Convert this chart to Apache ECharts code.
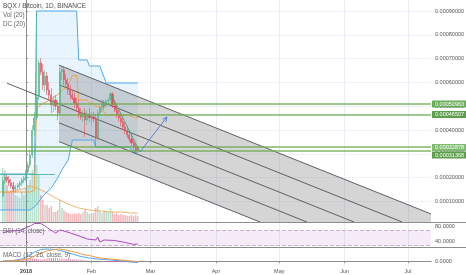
<!DOCTYPE html>
<html><head><meta charset="utf-8">
<script src="https://cdn.jsdelivr.net/npm/echarts@6/dist/echarts.min.js"></script>
<style>html,body{margin:0;padding:0;background:#fff}#c{width:466px;height:275px}</style>
</head><body><div id="c"></div>
<script>
// ---------- data ----------
const dates = ['2017-12-21','2017-12-22','2017-12-23','2017-12-24','2017-12-25','2017-12-26','2017-12-27','2017-12-28','2017-12-29','2017-12-30','2017-12-31',
'2018-01-01','2018-01-02','2018-01-03','2018-01-04','2018-01-05','2018-01-06','2018-01-07','2018-01-08','2018-01-09','2018-01-10','2018-01-11','2018-01-12','2018-01-13','2018-01-14','2018-01-15','2018-01-16',
'2018-01-17','2018-01-18','2018-01-19','2018-01-20','2018-01-21','2018-01-22','2018-01-23','2018-01-24','2018-01-25','2018-01-26','2018-01-27','2018-01-28','2018-01-29','2018-01-30','2018-01-31','2018-02-01',
'2018-02-02','2018-02-03','2018-02-04','2018-02-05','2018-02-06','2018-02-07','2018-02-08','2018-02-09','2018-02-10','2018-02-11','2018-02-12','2018-02-13','2018-02-14','2018-02-15','2018-02-16','2018-02-17','2018-02-18','2018-02-19','2018-02-20','2018-02-21','2018-02-22','2018-02-23'];
const opens = [0.0001227,0.0001857,0.0002025,0.0001899,0.0001773,0.0001647,0.0001521,0.0001605,0.0001689,0.0001773,0.0001899,
0.0001983,0.0002235,0.0002529,0.0002950,0.0004000,0.0004504,0.0005387,0.0006815,0.0006437,0.0005891,0.0006269,0.0005681,0.0005471,0.0005050,0.0005261,0.0005008,
0.0004714,0.0006437,0.0006521,0.0006101,0.0005933,0.0005681,0.0005471,0.0005345,0.0005134,0.0004924,0.0004672,0.0004546,0.0004714,0.0004420,0.0004672,0.0004504,
0.0004546,0.0004462,0.0003664,0.0004714,0.0004924,0.0005092,0.0005008,0.0005218,0.0005261,0.0005513,0.0005050,0.0004840,0.0004672,0.0004504,0.0004336,0.0004126,0.0003958,0.0003790,0.0003622,0.0003454,0.0003286,0.0003118];
const closes = [0.0001857,0.0002025,0.0001899,0.0001773,0.0001647,0.0001521,0.0001605,0.0001689,0.0001773,0.0001899,0.0001983,
0.0002235,0.0002529,0.0002950,0.0004000,0.0004504,0.0005387,0.0006815,0.0006437,0.0005891,0.0006269,0.0005681,0.0005471,0.0005050,0.0005261,0.0005008,0.0004714,
0.0006437,0.0006521,0.0006101,0.0005933,0.0005681,0.0005471,0.0005345,0.0005134,0.0004924,0.0004672,0.0004546,0.0004714,0.0004420,0.0004672,0.0004504,0.0004546,
0.0004462,0.0003664,0.0004714,0.0004924,0.0005092,0.0005008,0.0005218,0.0005261,0.0005513,0.0005050,0.0004840,0.0004672,0.0004504,0.0004336,0.0004126,0.0003958,0.0003790,0.0003622,0.0003454,0.0003286,0.0003118,0.0003244];
const highs = [0.0001983,0.0002151,0.0002151,0.0002067,0.0001941,0.0001815,0.0001689,0.0001773,0.0001857,0.0001983,0.0002067,
0.0002319,0.0002655,0.0003160,0.0004210,0.0004756,0.0009000,0.0006941,0.0007025,0.0006773,0.0006521,0.0006437,0.0006017,0.0005765,0.0005429,0.0005471,0.0005261,
0.0006605,0.0006689,0.0006689,0.0006353,0.0006185,0.0005891,0.0005681,0.0005555,0.0005345,0.0005261,0.0004924,0.0004840,0.0004924,0.0004840,0.0004924,0.0004756,
0.0004756,0.0004672,0.0004840,0.0005008,0.0005261,0.0005261,0.0005303,0.0005345,0.0005597,0.0005597,0.0005261,0.0005092,0.0004840,0.0004672,0.0004504,0.0004336,0.0004168,0.0004000,0.0003832,0.0003580,0.0003412,0.0003328];
const lows = [0.0001143,0.0001731,0.0001773,0.0001647,0.0001563,0.0001395,0.0001353,0.0001479,0.0001521,0.0001647,0.0001773,
0.0001857,0.0002109,0.0002403,0.0002824,0.0003748,0.0004420,0.0005261,0.0006311,0.0005681,0.0005597,0.0005471,0.0005261,0.0004714,0.0004756,0.0004840,0.0004420,
0.0004588,0.0006101,0.0005891,0.0005765,0.0005471,0.0005261,0.0005261,0.0004924,0.0004756,0.0004504,0.0004420,0.0004336,0.0003706,0.0004210,0.0004336,0.0004210,
0.0004336,0.0003286,0.0003580,0.0004588,0.0004756,0.0004840,0.0004924,0.0005092,0.0005176,0.0004924,0.0004756,0.0004504,0.0004336,0.0004168,0.0004000,0.0003832,0.0003664,0.0003496,0.0003328,0.0003160,0.0003034,0.0003034];
const volumes = [540,520,370,300,320,400,270,260,240,300,270,
340,370,420,520,570,570,470,270,220,170,170,140,160,100,100,120,
220,140,120,100,90,80,80,90,80,90,80,100,120,100,80,90,
90,140,160,110,90,100,110,100,140,100,80,90,70,80,70,70,60,60,70,60,70,60];

// Volume MA (20), read at selected dates (days from 2018-01-01)
const volMaDays = [-11,-5,0,2,5,10,15,20,25,30,35,40,45,50,53];
const volMa = [290,310,340,360,340,290,230,180,140,120,110,100,100,90,90];

// Donchian channel (20)
const dcUpperDays = [-12.3,4,5,24,25,29,30,35,38,53];
const dcUpper = [0.000215,0.000215,0.0009,0.0009,0.0006941,0.0006941,0.0006689,0.0006689,0.0005975,0.0005975];
const dcLowerDays = [-12.3,2,5,8,12,15,17,20,21,22,32,33,49,50,52,53];
const dcLower = [0.0000639,0.0000639,0.0000849,0.0001227,0.0001563,0.0001983,0.0002319,0.0002739,0.0003160,0.0003580,0.0003580,0.0003286,0.0003286,0.0003160,0.0003034,0.0003034];
const dcBasisDays = [-12.3,2,4,5,8,12,15,17,20,21,22,24,25,29,30,32,33,35,38,49,50,52,53];
const dcBasis = [0.0001395,0.0001395,0.0001466,0.0004924,0.0005113,0.0005282,0.0005492,0.0005660,0.0005870,0.0006080,0.0006290,0.0006290,0.0005261,0.0005261,0.0005134,0.0005134,0.0004987,0.0004987,0.0004630,0.0004630,0.0004567,0.0004504,0.0004504];

// Pitchfork: lines from a common start day to their end points
const pfStartDay = 15.64;
const pfStart = [0.0003513,0.0004301,0.0005092,0.0005901,0.0006724];
const pfEndDays = [110.9,133.1,155.4,178.2,191.9];
const pfEnd = [0.0000134,0.0000134,0.0000134,0.0000134,0.0000472];
const pfHandle = [-9.0,0.0005966];

// Horizontal levels
const levels = [0.00050963,0.00046507,0.00032878,0.00031368];
const levelText = ['0.00050963','0.00046507','0.00032878','0.00031368'];
const tealLine = [[-12.32,0.000215],[13.7,0.000215]];
const trendLine = [[40,0.0005555],[54,0.0003076]];
const arrowLine = [[54,0.0003076],[66.8,0.0004546]];

// RSI (14)
const rsiDays = [-11,-8,-3,2,4,7,9,11,14,16,18,21,26,29,33,34,35,37,42,47,51,53];
const rsiVals = [63.4,68.7,70,81.8,88.4,88.4,82,73.9,63.4,71.3,68.7,63.4,54.2,47.6,45,52.9,39.7,45,43.7,38.4,33.2,34.5];

// MACD (12,26,9) in 1e-6 BTC
const macdDays = [-11,-6,-2,1,4,7,10,14,18,22,26,30,34,40,46,50,53];
const macdVals = [0,0.5,2,5,9,11.5,12,11.5,9.5,7,4.5,3,2,1,0,-1,-1.5];
const signalDays = [-11,-6,-2,2,6,10,13,16,19,23,27,31,35,40,45,50,53];
const signalVals = [0,0.2,1,3,7,10,11.5,12,11,9,6.5,5,3,2,1,0,-0.5];
const histVals = [0.5,0.8,1,1.2,1.5,1.5,1.8,2, 2,2.2,2.5,2.5,2.2,2,1.8,1.5,1.5,2,2.5, 3,3,3,2.8,2.8,2.5,2.5,2.2,2,2,1.8,1.5,1.5, 1.2,1,1,0.8,0.8,0.5,0.5,0.5,0.3,0.3,0.2,0.2, -0.3,-0.5,-0.5,-0.6,-0.8,-0.8,-1,-1,-1,-1.2,-1.2,-1.2,-1.3,-1.3,-1.5,-1.5,-1.5,-1.5];

// Axis ticks
const priceTicks = [0.0001,0.0002,0.0003,0.0004,0.0005,0.0006,0.0007,0.0008,0.0009];
const monthDays = [0,31,59,90,120,151,181];
const monthLabels = ['2018','Feb','Mar','Apr','May','Jun','Jul'];
const rsiTicks = [40,80];

// ---------- build ----------
const DAY = 86400000, base = Date.UTC(2018,0,1);
const dayOf = s => (Date.parse(s + 'T00:00:00Z') - base) / DAY;
const days = dates.map(dayOf);
const xMin = -12.32, xMax = 191.9;
const UP = '#53b987', DOWN = '#eb4d5c';
const FONT = 'Liberation Sans';

const candleData = days.map((d,i)=>[d, opens[i], closes[i], lows[i], highs[i]]);
const volData = days.map((d,i)=>({value:[d, volumes[i]], itemStyle:{color: closes[i]>=opens[i] ? 'rgba(83,185,135,0.4)' : 'rgba(235,77,92,0.4)'}}));
const zip = (xs, ys) => xs.map((x,i)=>[x, ys[i]]);
const histDays = days.slice(3);

function dcFill(params, api){
  const pts = [];
  for (let i=0;i<dcUpperDays.length;i++) pts.push(api.coord([dcUpperDays[i], dcUpper[i]]));
  for (let i=dcLowerDays.length-1;i>=0;i--) pts.push(api.coord([dcLowerDays[i], dcLower[i]]));
  return {type:'polygon', shape:{points:pts}, style:{fill:'rgba(33,150,243,0.1)'}, silent:true};
}
function pfFill(params, api){
  const n = pfStart.length-1;
  const pts = [
    api.coord([pfStartDay, pfStart[n]]),
    api.coord([pfEndDays[n], pfEnd[n]]),
    api.coord([pfEndDays[n], pfEnd[0]]),
    api.coord([pfEndDays[0], pfEnd[0]]),
    api.coord([pfStartDay, pfStart[0]])
  ];
  return {type:'polygon', shape:{points:pts}, style:{fill:'rgba(115,115,115,0.3)'}, silent:true};
}
function arrowRender(params, api){
  const a = api.coord(arrowLine[0]), b = api.coord(arrowLine[1]);
  const ang = Math.atan2(b[1]-a[1], b[0]-a[0]), L = 5, w = 0.45;
  const h1 = [b[0]-L*Math.cos(ang-w), b[1]-L*Math.sin(ang-w)];
  const h2 = [b[0]-L*Math.cos(ang+w), b[1]-L*Math.sin(ang+w)];
  const st = {stroke:'#5a7fd6', lineWidth:1, fill:null};
  return {type:'group', children:[
    {type:'polyline', shape:{points:[a,b]}, style:st},
    {type:'polyline', shape:{points:[h1,b,h2]}, style:st}
  ]};
}
const levelColors = ['#6aad5a','#5d9f4b','#7fbb70','#5d9f4b'];
const labelShift = [0,0,0.5,4.5];   // pixel nudges so close labels do not overlap
function levelLabel(params, api){
  const i = params.dataIndex;
  const p = api.coord([xMax, api.value(1)]);
  const y = p[1] + labelShift[i];
  return {type:'group', children:[
    {type:'rect', shape:{x:p[0]+1, y:y-3.5, width:35, height:7}, style:{fill:levelColors[i]}},
    {type:'text', x:p[0]+4, y:y+0.3, style:{text:levelText[i], fill:'#fff', fontSize:5.5, fontFamily:FONT, verticalAlign:'middle', align:'left'}}
  ]};
}

const gridLineColor = '#e8eef6';
const xCommon = (gi, showLabels) => ({
  type:'value', gridIndex:gi, min:xMin, max:xMax,
  axisLine:{show:showLabels, lineStyle:{color:'#8c8c8c'}},
  axisTick:{show:showLabels, customValues:monthDays, length:2, lineStyle:{color:'#8c8c8c'}},
  axisLabel:{show:showLabels, customValues:monthDays, margin:2, fontSize:5.5, fontFamily:FONT, color:'#555',
    formatter: v => { const i = monthDays.indexOf(v); return i===0 ? '{b|2018}' : (i>0 ? monthLabels[i] : ''); },
    rich:{b:{fontWeight:'bold', fontSize:5.5, fontFamily:FONT, color:'#444'}}},
  splitLine:{show:true, lineStyle:{color:gridLineColor, width:1}}
});
const yLabel = {fontSize:5.5, fontFamily:FONT, color:'#555', margin:4};

const titleStyle = (sz,c) => ({fontSize:sz, fontFamily:FONT, color:c, fontWeight:'normal'});
const option = {
  animation:false,
  backgroundColor:'#ffffff',
  title:[
    {text:'BQX / Bitcoin, 1D, BINANCE', left:3, top:3, padding:0, textStyle:titleStyle(6.5,'#4d4d4d')},
    {text:'Vol (20)', left:3, top:12, padding:0, textStyle:titleStyle(6.3,'#666')},
    {text:'DC (20)', left:3, top:21, padding:0, textStyle:titleStyle(6.3,'#666')},
    {text:'RSI (14, close)', left:3, top:228, padding:0, textStyle:titleStyle(6.3,'#666')},
    {text:'MACD (12, 26, close, 9)', left:3, top:252.5, padding:0, textStyle:titleStyle(6.3,'#666')}
  ],
  grid:[
    {left:0, right:35, top:0, height:222, outerBoundsMode:'none', containLabel:false},
    {left:0, right:35, top:222, height:25, outerBoundsMode:'none', containLabel:false},
    {left:0, right:35, top:247, height:19, outerBoundsMode:'none', containLabel:false}
  ],
  xAxis:[xCommon(0,false), xCommon(1,false), xCommon(2,true)],
  yAxis:[
    {type:'value', gridIndex:0, position:'right', min:0.0000134, max:0.0009462,
      axisLine:{show:true, lineStyle:{color:'#8c8c8c'}},
      axisTick:{show:true, customValues:priceTicks, length:2, lineStyle:{color:'#8c8c8c'}},
      axisLabel:Object.assign({customValues:priceTicks, formatter:v=>v.toFixed(8)}, yLabel),
      splitLine:{show:true, lineStyle:{color:'#eef2f8'}}},
    {type:'value', gridIndex:0, min:0, max:2220, show:false, splitLine:{show:false}},
    {type:'value', gridIndex:1, position:'right', min:26.5, max:92.5,
      axisLine:{show:true, lineStyle:{color:'#8c8c8c'}},
      axisTick:{show:true, customValues:rsiTicks, length:2, lineStyle:{color:'#8c8c8c'}},
      axisLabel:Object.assign({customValues:rsiTicks, formatter:v=>v.toFixed(4)}, yLabel),
      splitLine:{show:false}},
    {type:'value', gridIndex:2, position:'right', min:-5, max:14,
      axisLine:{show:true, lineStyle:{color:'#8c8c8c'}},
      axisTick:{show:true, customValues:[0], length:2, lineStyle:{color:'#8c8c8c'}},
      axisLabel:Object.assign({customValues:[0], formatter:v=>v.toFixed(4)}, yLabel),
      splitLine:{show:false}}
  ],
  graphic:[
    {type:'line', shape:{x1:0,y1:222.5,x2:466,y2:222.5}, style:{stroke:'#8c8c8c', lineWidth:1}, z:100},
    {type:'line', shape:{x1:0,y1:247.5,x2:466,y2:247.5}, style:{stroke:'#8c8c8c', lineWidth:1}, z:100}
  ],
  series:[
    {type:'custom', name:'dcFill', xAxisIndex:0, yAxisIndex:0, data:[[0,0.0005]], renderItem:dcFill, silent:true, z:1},
    {type:'custom', name:'pfFill', xAxisIndex:0, yAxisIndex:0, data:[[0,0.0005]], renderItem:pfFill, silent:true, z:1},
    {type:'bar', name:'Vol', xAxisIndex:0, yAxisIndex:1, data:volData, barWidth:1.6, z:2},
    {type:'line', name:'VolMA', xAxisIndex:0, yAxisIndex:1, data:zip(volMaDays, volMa), symbol:'none', lineStyle:{color:'#f5a04a', width:1, opacity:0.8}, z:3},
    {type:'line', name:'DC upper', xAxisIndex:0, yAxisIndex:0, data:zip(dcUpperDays, dcUpper), symbol:'none', lineStyle:{color:'#4fa8f0', width:1}, z:3},
    {type:'line', name:'DC lower', xAxisIndex:0, yAxisIndex:0, data:zip(dcLowerDays, dcLower), symbol:'none', lineStyle:{color:'#4fa8f0', width:1}, z:3},
    {type:'line', name:'DC basis', xAxisIndex:0, yAxisIndex:0, data:zip(dcBasisDays, dcBasis), symbol:'none', lineStyle:{color:'#f5a04a', width:1}, z:3},
    {type:'lines', name:'pitchfork', coordinateSystem:'cartesian2d', xAxisIndex:0, yAxisIndex:0, silent:true, z:4,
      lineStyle:{color:'#5f5f5f', width:1, opacity:1},
      data: pfStart.map((v,i)=>({coords:[[pfStartDay, v],[pfEndDays[i], pfEnd[i]]]})).concat([{coords:[pfHandle,[pfStartDay, pfStart[2]]]}])},
    {type:'candlestick', name:'BQXBTC', xAxisIndex:0, yAxisIndex:0, data:candleData, encode:{x:0, y:[1,2,3,4]}, barWidth:1.6, z:5,
      itemStyle:{color:UP, color0:DOWN, borderColor:UP, borderColor0:DOWN, borderWidth:0.6}},
    {type:'lines', name:'levels', coordinateSystem:'cartesian2d', xAxisIndex:0, yAxisIndex:0, silent:true, z:6,
      lineStyle:{color:'#6aa84f', width:1.6, opacity:0.85},
      data: levels.map(v=>({coords:[[xMin, v],[xMax, v]]}))},
    {type:'lines', name:'drawings', coordinateSystem:'cartesian2d', xAxisIndex:0, yAxisIndex:0, silent:true, z:6,
      data:[{coords:tealLine, lineStyle:{color:'#4fb0a0', width:1, opacity:0.9}},
            {coords:trendLine, lineStyle:{color:'#3fa36b', width:1, opacity:0.9}}]},
    {type:'custom', name:'arrow', xAxisIndex:0, yAxisIndex:0, data:[[60,0.0004]], renderItem:arrowRender, silent:true, z:7},
    {type:'custom', name:'levelLabels', xAxisIndex:0, yAxisIndex:0, data:levels.map(v=>[xMax, v]), renderItem:levelLabel, clip:false, silent:true, z:20},
    {type:'line', name:'RSI', xAxisIndex:1, yAxisIndex:2, data:zip(rsiDays, rsiVals), symbol:'none', lineStyle:{color:'#a64bc4', width:1}, z:5,
      markArea:{silent:true, itemStyle:{color:'rgba(156,39,176,0.09)'}, data:[[{yAxis:70},{yAxis:30}]]},
      markLine:{silent:true, symbol:'none', label:{show:false}, lineStyle:{type:'dashed', color:'#c6b2cf', width:1}, data:[{yAxis:70},{yAxis:30}]}},
    {type:'bar', name:'Histogram', xAxisIndex:2, yAxisIndex:3, data:zip(histDays, histVals), barWidth:1, itemStyle:{color:'rgba(240,80,130,0.75)'}, z:3},
    {type:'line', name:'MACD', xAxisIndex:2, yAxisIndex:3, data:zip(macdDays, macdVals), symbol:'none', lineStyle:{color:'#4aa8f2', width:1}, z:4},
    {type:'line', name:'Signal', xAxisIndex:2, yAxisIndex:3, data:zip(signalDays, signalVals), symbol:'none', lineStyle:{color:'#f59a45', width:1}, z:4}
  ]
};
const chart = echarts.init(document.getElementById('c'));
chart.setOption(option);
</script></body></html>
